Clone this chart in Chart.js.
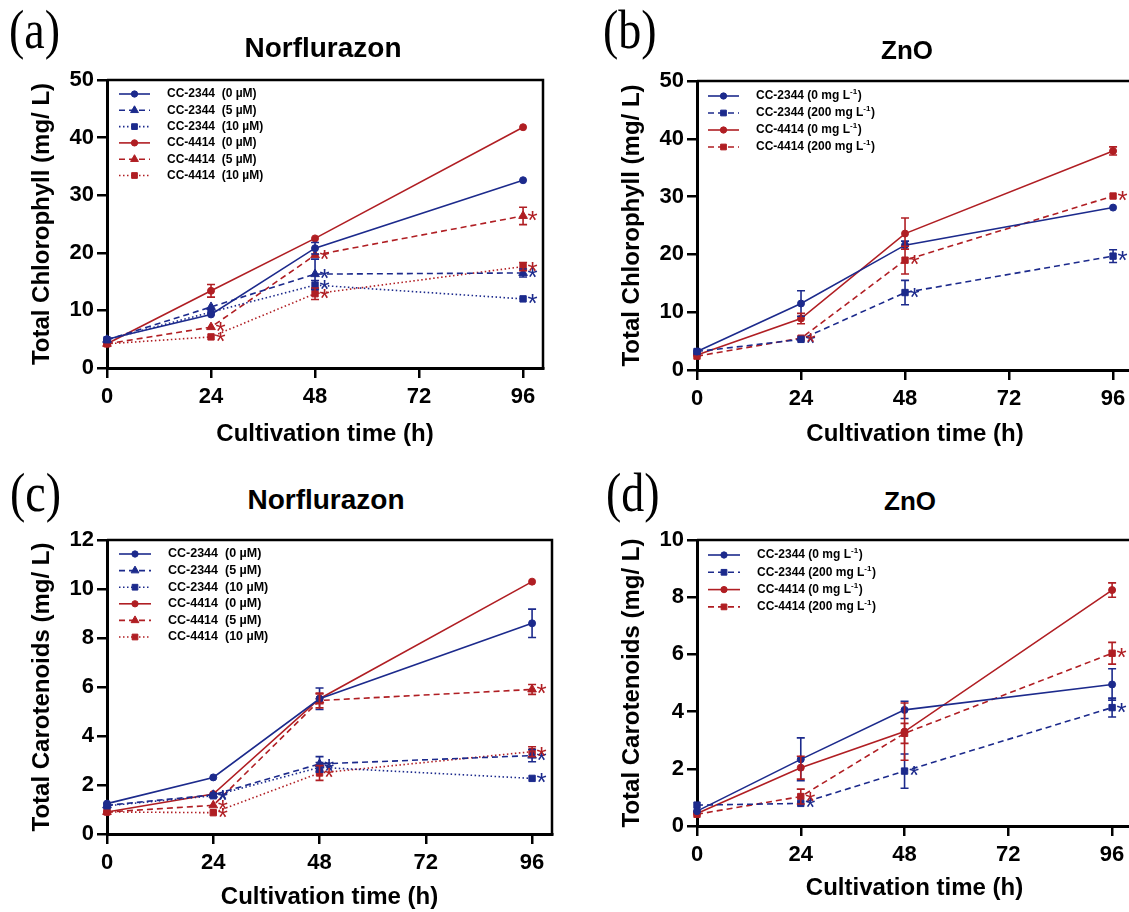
<!DOCTYPE html>
<html><head><meta charset="utf-8">
<script src="https://cdn.jsdelivr.net/npm/chart.js@4/dist/chart.umd.min.js"></script>
<style>
html,body{margin:0;padding:0;background:#fff;}
body{width:1129px;height:912px;overflow:hidden;position:relative;font-family:'Liberation Sans',Arial,sans-serif;}
canvas{position:absolute;}
.plab{position:absolute;font-family:'Liberation Serif','Times New Roman',serif;font-size:46px;line-height:1;transform:scaleY(1.2);transform-origin:0 0;color:#000;}
.ptitle{position:absolute;font-family:'Liberation Sans',Arial,sans-serif;font-weight:bold;font-size:28px;line-height:1;width:300px;text-align:center;color:#000;}
</style></head><body>
<canvas id="ca" width="570" height="405" style="left:0;top:60px"></canvas>
<canvas id="cb" width="560" height="405" style="left:590px;top:60px"></canvas>
<canvas id="cc" width="570" height="392" style="left:0;top:520px"></canvas>
<canvas id="cd" width="560" height="392" style="left:590px;top:520px"></canvas>
<div class="plab" style="left:9px;top:2px">(a)</div>
<div class="plab" style="left:603px;top:2px">(b)</div>
<div class="plab" style="left:10px;top:465px">(c)</div>
<div class="plab" style="left:606px;top:465px">(d)</div>
<div class="ptitle" style="left:173px;top:34px">Norflurazon</div>
<div class="ptitle" style="left:757px;top:37px;font-size:26px">ZnO</div>
<div class="ptitle" style="left:176px;top:486px">Norflurazon</div>
<div class="ptitle" style="left:760px;top:488px;font-size:26px">ZnO</div>
<script>
// ---------------- DATA ----------------
const hours = [0, 24, 48, 96];
const xTicks = [0, 24, 48, 72, 96];
const yTicksChl = [0, 10, 20, 30, 40, 50];
const yTicksCarNor = [0, 2, 4, 6, 8, 10, 12];
const yTicksCarZnO = [0, 2, 4, 6, 8, 10];

const norLabels = ['CC-2344  (0 µM)', 'CC-2344  (5 µM)', 'CC-2344  (10 µM)',
                   'CC-4414  (0 µM)', 'CC-4414  (5 µM)', 'CC-4414  (10 µM)'];
const znoLabels = ['CC-2344 (0 mg L⁻¹)', 'CC-2344 (200 mg L⁻¹)',
                   'CC-4414 (0 mg L⁻¹)', 'CC-4414 (200 mg L⁻¹)'];

// (a) Total chlorophyll, Norflurazon
const chlNor_2344_0  = [5.0, 9.3, 20.8, 32.6];
const chlNor_2344_5  = [4.9, 10.6, 16.3, 16.5];
const chlNor_2344_10 = [4.9, 9.7, 14.4, 12.0];
const chlNor_4414_0  = [4.2, 13.4, 22.5, 41.8];
const chlNor_4414_5  = [4.2, 7.1, 19.6, 26.4];
const chlNor_4414_10 = [4.2, 5.4, 12.9, 17.6];
const chlNorSd_2344_0  = [0.3, 0.5, 1.0, 0.3];
const chlNorSd_2344_5  = [0.3, 0.6, 2.6, 0.7];
const chlNorSd_2344_10 = [0.3, 0.4, 0.8, 0.6];
const chlNorSd_4414_0  = [0.3, 1.1, 0.3, 0.6];
const chlNorSd_4414_5  = [0.3, 0.5, 0.6, 1.5];
const chlNorSd_4414_10 = [0.3, 0.4, 1.0, 0.7];
const chlNorStar_2344_5  = [0, 0, 1, 1];
const chlNorStar_2344_10 = [0, 0, 1, 1];
const chlNorStar_4414_5  = [0, 1, 1, 1];
const chlNorStar_4414_10 = [0, 1, 1, 1];
const noStar = [0, 0, 0, 0];

// (b) Total chlorophyll, ZnO
const chlZnO_2344_0   = [3.2, 11.5, 21.6, 28.1];
const chlZnO_2344_200 = [3.2, 5.3, 13.4, 19.7];
const chlZnO_4414_0   = [2.6, 8.9, 23.6, 37.9];
const chlZnO_4414_200 = [2.4, 5.5, 19.0, 30.1];
const chlZnOSd_2344_0   = [0.3, 2.2, 0.7, 0.5];
const chlZnOSd_2344_200 = [0.3, 0.4, 2.1, 1.1];
const chlZnOSd_4414_0   = [0.3, 0.9, 2.7, 0.7];
const chlZnOSd_4414_200 = [0.3, 0.3, 2.4, 0.3];
const chlZnOStar_2344_200 = [0, 1, 1, 1];
const chlZnOStar_4414_200 = [0, 1, 1, 1];

// (c) Total carotenoids, Norflurazon
const carNor_2344_0  = [1.24, 2.31, 5.52, 8.6];
const carNor_2344_5  = [1.17, 1.60, 2.86, 3.2];
const carNor_2344_10 = [1.15, 1.56, 2.72, 2.27];
const carNor_4414_0  = [0.90, 1.63, 5.52, 10.3];
const carNor_4414_5  = [0.90, 1.17, 5.45, 5.9];
const carNor_4414_10 = [0.90, 0.87, 2.49, 3.36];
const carNorSd_2344_0  = [0.05, 0.1, 0.44, 0.58];
const carNorSd_2344_5  = [0.05, 0.1, 0.3, 0.25];
const carNorSd_2344_10 = [0.05, 0.1, 0.2, 0.1];
const carNorSd_4414_0  = [0.05, 0.1, 0.2, 0.05];
const carNorSd_4414_5  = [0.05, 0.1, 0.3, 0.2];
const carNorSd_4414_10 = [0.05, 0.05, 0.3, 0.2];
const carNorStar_2344_5  = [0, 1, 1, 1];
const carNorStar_2344_10 = [0, 1, 1, 1];
const carNorStar_4414_5  = [0, 1, 0, 1];
const carNorStar_4414_10 = [0, 1, 1, 1];

// (d) Total carotenoids, ZnO
const carZnO_2344_0   = [0.52, 2.33, 4.06, 4.95];
const carZnO_2344_200 = [0.73, 0.79, 1.92, 4.14];
const carZnO_4414_0   = [0.44, 2.04, 3.30, 8.25];
const carZnO_4414_200 = [0.41, 1.03, 3.24, 6.04];
const carZnOSd_2344_0   = [0.05, 0.75, 0.3, 0.55];
const carZnOSd_2344_200 = [0.1, 0.1, 0.6, 0.33];
const carZnOSd_4414_0   = [0.05, 0.4, 1.0, 0.25];
const carZnOSd_4414_200 = [0.05, 0.26, 0.35, 0.38];
const carZnOStar_2344_200 = [0, 1, 1, 1];
const carZnOStar_4414_200 = [0, 1, 0, 1];

// ---------------- STYLES ----------------
const BLUE = '#1c2a8c', RED = '#b01e23';
const FONT = "'Liberation Sans', Arial, sans-serif";
const SOLID = [], DASH = [6, 4], DOT = [1.5, 2.5];
const styleNor = [
  {c: BLUE, d: SOLID, p: 'circle', r: 3.5}, {c: BLUE, d: DASH, p: 'triangle', r: 5}, {c: BLUE, d: DOT, p: 'rect', r: 4.5},
  {c: RED, d: SOLID, p: 'circle', r: 3.5}, {c: RED, d: DASH, p: 'triangle', r: 5}, {c: RED, d: DOT, p: 'rect', r: 4.5}
];
const styleZnO = [
  {c: BLUE, d: SOLID, p: 'circle', r: 3.5}, {c: BLUE, d: DASH, p: 'rect', r: 4.5},
  {c: RED, d: SOLID, p: 'circle', r: 3.5}, {c: RED, d: DASH, p: 'rect', r: 4.5}
];

function ds(label, vals, sd, stars, st) {
  return {
    label, data: hours.map((h, i) => ({x: h, y: vals[i]})),
    sd, stars,
    borderColor: st.c, backgroundColor: st.c, borderWidth: 1.6, borderDash: st.d,
    pointStyle: st.p, pointRadius: st.r, pointBorderWidth: 1,
    pointBackgroundColor: st.c, pointBorderColor: st.c,
    tension: 0, fill: false, clip: false
  };
}

const decoPlugin = {
  id: 'deco',
  beforeDatasetsDraw(chart) {
    const {ctx, chartArea: a} = chart;
    ctx.save();
    ctx.strokeStyle = '#000'; ctx.lineWidth = 2.5;
    ctx.beginPath();
    ctx.moveTo(a.left, a.top); ctx.lineTo(a.right, a.top); ctx.lineTo(a.right, a.bottom + 1);
    ctx.stroke();
    ctx.restore();
  },
  afterDatasetsDraw(chart, args, opts) {
    const {ctx, chartArea: a, scales: {x, y}} = chart;
    chart.data.datasets.forEach(d => {
      ctx.save();
      ctx.strokeStyle = d.borderColor; ctx.lineWidth = 1.6; ctx.setLineDash([]);
      d.data.forEach((p, i) => {
        const s = d.sd[i];
        const px = x.getPixelForValue(p.x);
        const y1 = y.getPixelForValue(p.y + s), y2 = y.getPixelForValue(p.y - s);
        if (y2 - y1 < 8) return;
        ctx.beginPath();
        ctx.moveTo(px, y1); ctx.lineTo(px, y2);
        ctx.moveTo(px - 4, y1); ctx.lineTo(px + 4, y1);
        ctx.moveTo(px - 4, y2); ctx.lineTo(px + 4, y2);
        ctx.stroke();
      });
      ctx.fillStyle = d.borderColor;
      ctx.font = '26px ' + FONT;
      ctx.textAlign = 'left'; ctx.textBaseline = 'alphabetic';
      d.data.forEach((p, i) => {
        if (!d.stars[i]) return;
        ctx.fillText('*', x.getPixelForValue(p.x) + 4.5, y.getPixelForValue(p.y) + 13);
      });
      ctx.restore();
    });
    // legend
    const L = opts.legend;
    chart.data.datasets.forEach((d, k) => {
      const yy = a.top + L.top + k * L.step;
      const x0 = a.left + L.x0, x1 = a.left + L.x1;
      ctx.save();
      ctx.strokeStyle = d.borderColor; ctx.fillStyle = d.borderColor;
      ctx.lineWidth = 1.6; ctx.setLineDash(d.borderDash);
      ctx.beginPath(); ctx.moveTo(x0, yy); ctx.lineTo(x1, yy); ctx.stroke();
      ctx.setLineDash([]); ctx.lineWidth = 1;
      Chart.helpers.drawPoint(ctx, {pointStyle: d.pointStyle, radius: d.pointRadius * 0.9, borderWidth: 1, rotation: 0}, (x0 + x1) / 2, yy);
      ctx.fillStyle = '#000';
      ctx.textBaseline = 'middle'; ctx.textAlign = 'left';
      let tx = a.left + L.tx;
      const parts = d.label.split('⁻¹');
      parts.forEach((part, j) => {
        ctx.font = 'bold ' + L.size + 'px ' + FONT;
        ctx.fillText(part, tx, yy);
        tx += ctx.measureText(part).width;
        if (j < parts.length - 1) {
          ctx.font = 'bold ' + Math.round(L.size * 0.65) + 'px ' + FONT;
          ctx.fillText('-1', tx, yy - 4);
          tx += ctx.measureText('-1').width + 0.5;
        }
      });
      ctx.restore();
    });
  }
};

function makeChart(id, datasets, cfg) {
  const tickFont = {size: 22, weight: 'bold', family: FONT};
  const titleFont = {size: 24, weight: 'bold', family: FONT};
  return new Chart(document.getElementById(id), {
    type: 'line',
    data: {datasets},
    options: {
      responsive: false, animation: false, devicePixelRatio: 1,
      layout: {padding: {left: 0, top: cfg.padTop, right: cfg.padRight, bottom: 0}},
      plugins: {legend: {display: false}, tooltip: {enabled: false}, deco: {legend: cfg.legend}},
      scales: {
        x: {
          type: 'linear', min: 0, max: cfg.xMax,
          afterBuildTicks: s => { s.ticks = xTicks.map(v => ({value: v})); },
          afterFit: s => { s.height = cfg.xH; },
          ticks: {color: '#000', font: tickFont, padding: 6, maxRotation: 0, autoSkip: false},
          grid: {display: true, drawOnChartArea: false, drawTicks: true, tickLength: 10, color: '#000', lineWidth: 2.5},
          border: {display: true, color: '#000', width: 3},
          title: {display: true, text: 'Cultivation time (h)', color: '#000', font: titleFont, padding: {top: 0, bottom: cfg.xTitlePad}}
        },
        y: {
          type: 'linear', min: cfg.yTicks[0], max: cfg.yTicks[cfg.yTicks.length - 1],
          afterBuildTicks: s => { s.ticks = cfg.yTicks.map(v => ({value: v})); },
          afterFit: s => { s.width = cfg.yW; },
          ticks: {color: '#000', font: tickFont, padding: 3},
          grid: {display: true, drawOnChartArea: false, drawTicks: true, tickLength: 10, color: '#000', lineWidth: 2.5},
          border: {display: true, color: '#000', width: 3},
          title: {display: true, text: cfg.yTitle, color: '#000', font: titleFont, padding: {top: 27.6, bottom: 0}}
        }
      }
    },
    plugins: [decoPlugin]
  });
}

makeChart('ca', [
  ds(norLabels[0], chlNor_2344_0, chlNorSd_2344_0, noStar, styleNor[0]),
  ds(norLabels[1], chlNor_2344_5, chlNorSd_2344_5, chlNorStar_2344_5, styleNor[1]),
  ds(norLabels[2], chlNor_2344_10, chlNorSd_2344_10, chlNorStar_2344_10, styleNor[2]),
  ds(norLabels[3], chlNor_4414_0, chlNorSd_4414_0, noStar, styleNor[3]),
  ds(norLabels[4], chlNor_4414_5, chlNorSd_4414_5, chlNorStar_4414_5, styleNor[4]),
  ds(norLabels[5], chlNor_4414_10, chlNorSd_4414_10, chlNorStar_4414_10, styleNor[5])
], {padTop: 20, padRight: 27, xH: 97, yW: 107, xMax: 100.6, xTitlePad: 16.6, yTicks: yTicksChl,
    yTitle: 'Total Chlorophyll (mg/ L)', legend: {x0: 12, x1: 43, tx: 60, top: 14, step: 16.3, size: 12}});

makeChart('cb', [
  ds(znoLabels[0], chlZnO_2344_0, chlZnOSd_2344_0, noStar, styleZnO[0]),
  ds(znoLabels[1], chlZnO_2344_200, chlZnOSd_2344_200, chlZnOStar_2344_200, styleZnO[1]),
  ds(znoLabels[2], chlZnO_4414_0, chlZnOSd_4414_0, noStar, styleZnO[2]),
  ds(znoLabels[3], chlZnO_4414_200, chlZnOSd_4414_200, chlZnOStar_4414_200, styleZnO[3])
], {padTop: 21, padRight: 17, xH: 95, yW: 107, xMax: 100.6, xTitlePad: 16.6, yTicks: yTicksChl,
    yTitle: 'Total Chlorophyll (mg/ L)', legend: {x0: 11, x1: 42, tx: 59, top: 15, step: 17, size: 12}});

makeChart('cc', [
  ds(norLabels[0], carNor_2344_0, carNorSd_2344_0, noStar, styleNor[0]),
  ds(norLabels[1], carNor_2344_5, carNorSd_2344_5, carNorStar_2344_5, styleNor[1]),
  ds(norLabels[2], carNor_2344_10, carNorSd_2344_10, carNorStar_2344_10, styleNor[2]),
  ds(norLabels[3], carNor_4414_0, carNorSd_4414_0, noStar, styleNor[3]),
  ds(norLabels[4], carNor_4414_5, carNorSd_4414_5, carNorStar_4414_5, styleNor[4]),
  ds(norLabels[5], carNor_4414_10, carNorSd_4414_10, carNorStar_4414_10, styleNor[5])
], {padTop: 20, padRight: 18, xH: 78, yW: 107, xMax: 100.5, xTitlePad: 0, yTicks: yTicksCarNor,
    yTitle: 'Total Carotenoids (mg/ L)', legend: {x0: 12, x1: 44, tx: 61, top: 14, step: 16.6, size: 12.5}});

makeChart('cd', [
  ds(znoLabels[0], carZnO_2344_0, carZnOSd_2344_0, noStar, styleZnO[0]),
  ds(znoLabels[1], carZnO_2344_200, carZnOSd_2344_200, carZnOStar_2344_200, styleZnO[1]),
  ds(znoLabels[2], carZnO_4414_0, carZnOSd_4414_0, noStar, styleZnO[2]),
  ds(znoLabels[3], carZnO_4414_200, carZnOSd_4414_200, carZnOStar_4414_200, styleZnO[3])
], {padTop: 20, padRight: 18, xH: 86, yW: 107, xMax: 100.6, xTitlePad: 9.6, yTicks: yTicksCarZnO,
    yTitle: 'Total Carotenoids (mg/ L)', legend: {x0: 11, x1: 43, tx: 60, top: 15, step: 17.3, size: 12}});
</script>
</body></html>
